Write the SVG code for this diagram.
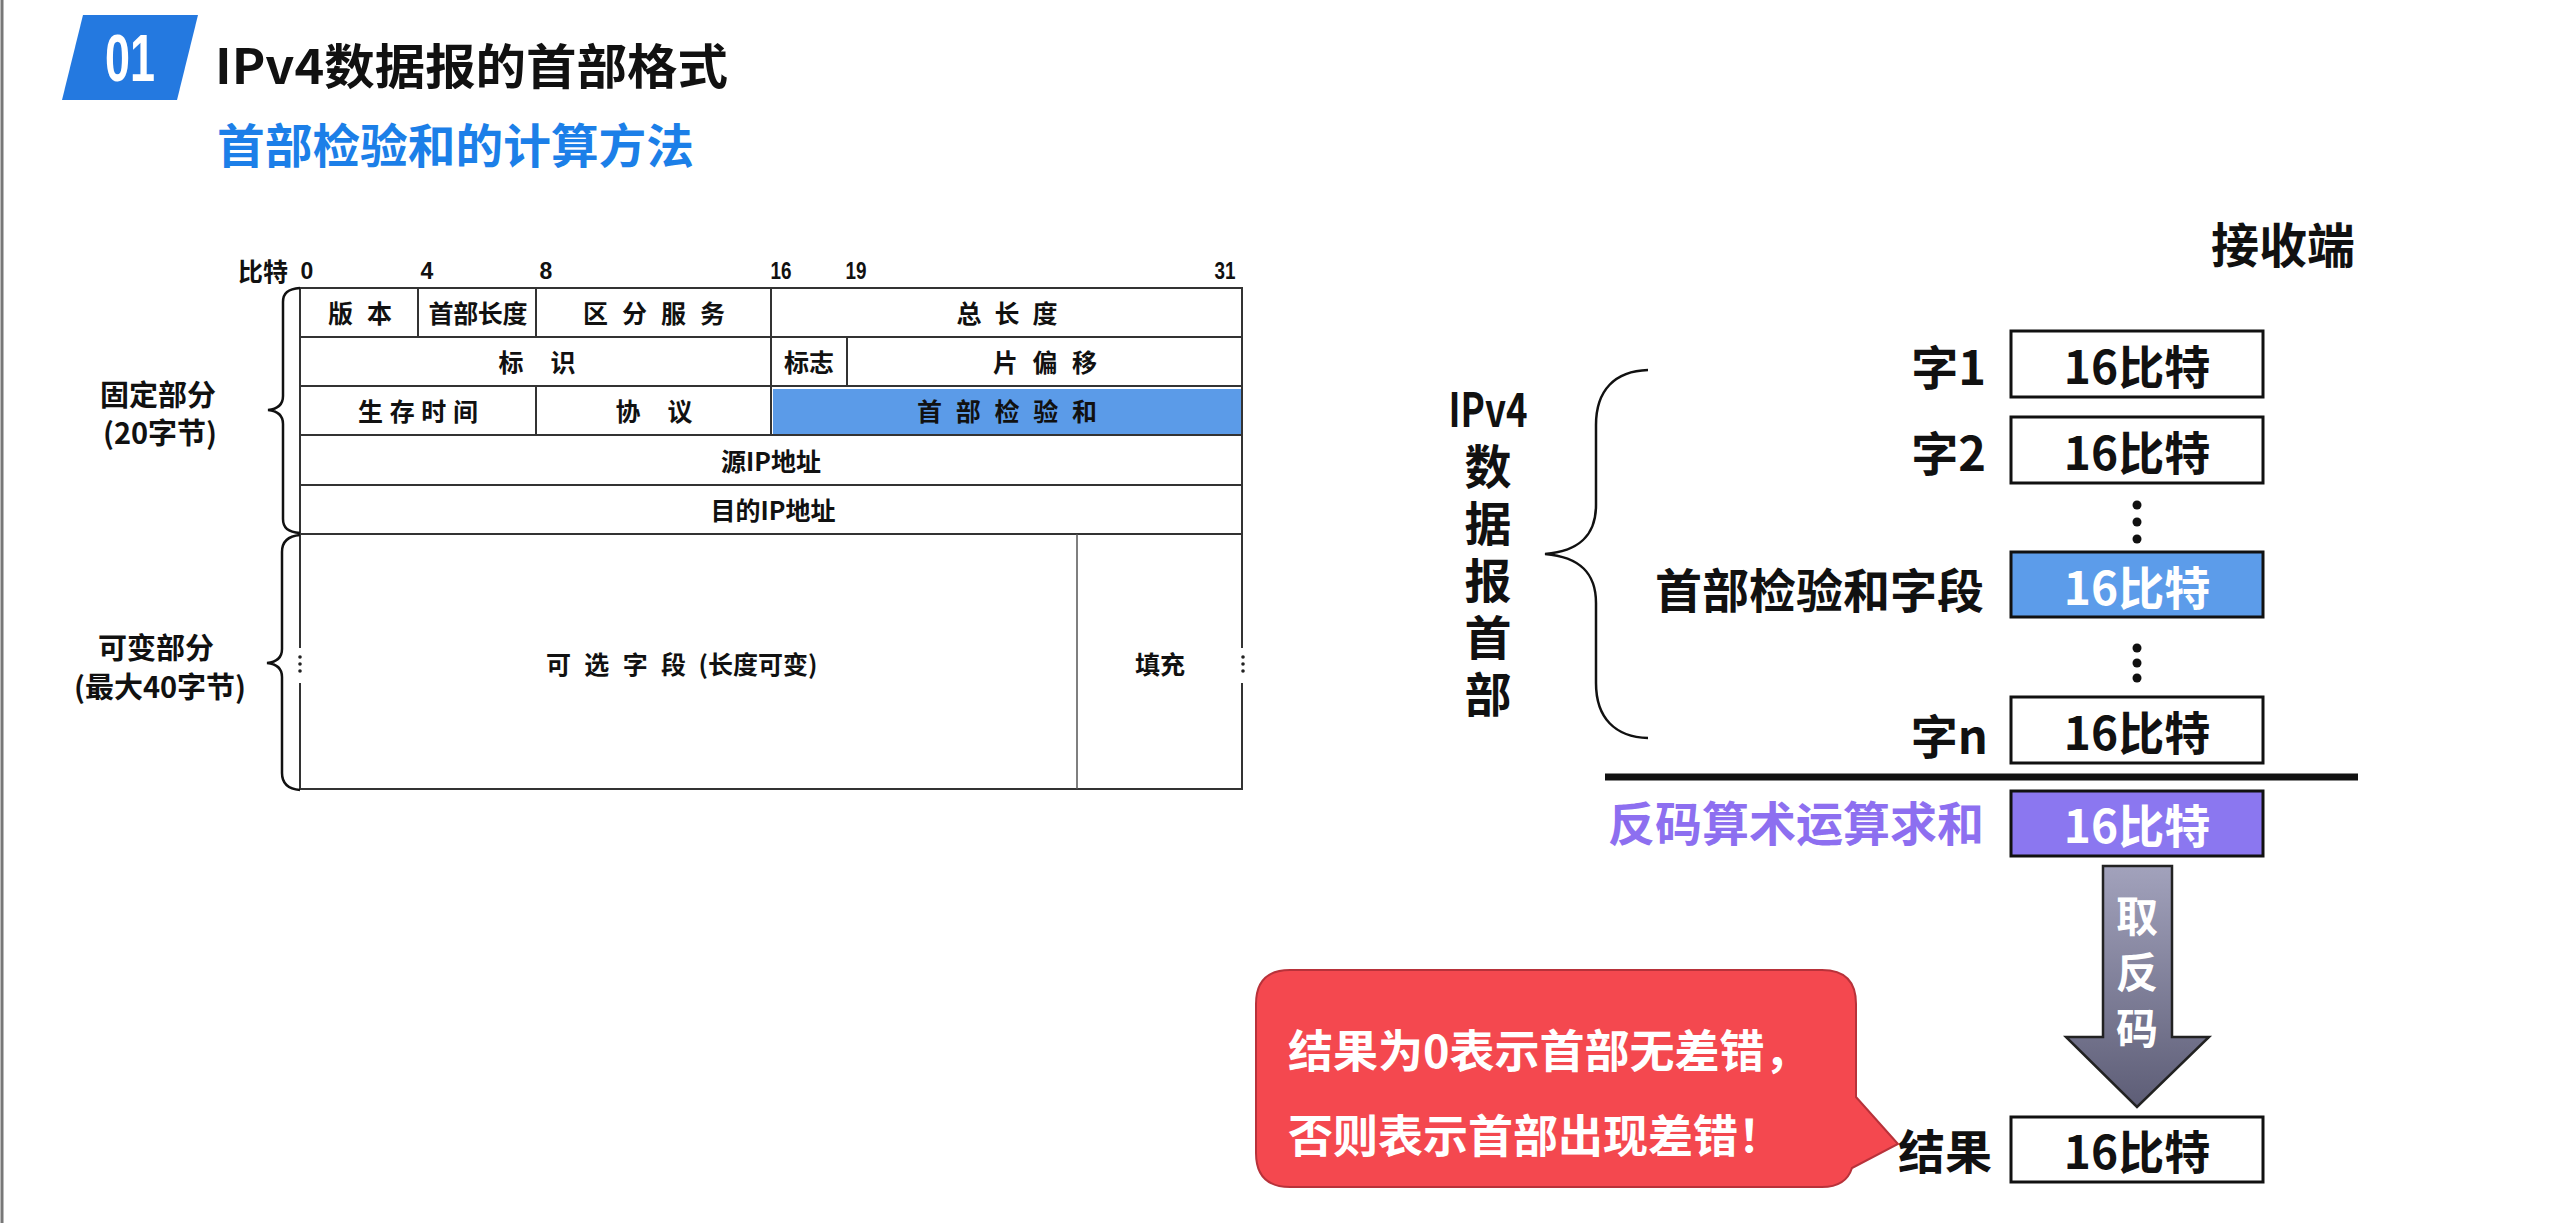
<svg xmlns="http://www.w3.org/2000/svg" width="2560" height="1223" viewBox="0 0 2560 1223">
  <defs>
    <style>
      .cjk { font-family: "Noto Sans CJK SC", "Liberation Sans", sans-serif; font-weight: bold; dominant-baseline: central; }
      .cell { font-size: 25px; fill: #111; text-anchor: middle; }
      .bit { font-family: "Liberation Sans", "Noto Sans CJK SC", sans-serif; font-weight: bold; font-size: 23px; fill: #111; text-anchor: middle; dominant-baseline: central; }
      .side { font-size: 29px; fill: #111; text-anchor: middle; }
      .grid { stroke: #333; stroke-width: 2; fill: none; }
      .brace { stroke: #111; stroke-width: 2.5; fill: none; }
      .word { fill: #fff; stroke: #111; stroke-width: 3; }
      .wlabel { font-size: 47px; fill: #111; text-anchor: end; }
      .wtext { font-size: 46px; fill: #111; text-anchor: middle; }
      .vtext { font-size: 47px; fill: #111; text-anchor: middle; }
      .vcol { font-family: "Noto Sans CJK SC", sans-serif; font-weight: bold; font-size: 47px; fill: #111; writing-mode: vertical-rl; text-orientation: upright; letter-spacing: 10px; }
    </style>
    <linearGradient id="arrowFill" x1="0" y1="0" x2="0" y2="1">
      <stop offset="0" stop-color="#a2a2bc"/>
      <stop offset="1" stop-color="#5d5d76"/>
    </linearGradient>
  </defs>

  <rect width="2560" height="1223" fill="#fff"/>
  <line x1="2" y1="0" x2="2" y2="1223" stroke="#777" stroke-width="3"/>

  <!-- heading -->
  <g id="heading">
    <polygon points="83,15 198,15 177,100 62,100" fill="#2479e0"/>
    <text x="130" y="58" font-family="Liberation Sans, sans-serif" font-weight="bold" font-size="66" fill="#fff" text-anchor="middle" dominant-baseline="central" textLength="50" lengthAdjust="spacingAndGlyphs">01</text>
    <text class="cjk" x="215" y="63" font-size="48" font-weight="900" fill="#111" textLength="513" lengthAdjust="spacingAndGlyphs">IPv4数据报的首部格式</text>
    <text class="cjk" x="217" y="142" font-size="47" font-weight="900" fill="#1c7fe8" textLength="477" lengthAdjust="spacingAndGlyphs">首部检验和的计算方法</text>
  </g>

  <!-- IPv4 header format table -->
  <g id="header-table">
    <text class="cjk" x="263" y="270" font-size="25" fill="#111" text-anchor="middle">比特</text>
    <text class="bit" x="307" y="271">0</text>
    <text class="bit" x="427" y="271">4</text>
    <text class="bit" x="546" y="271">8</text>
    <text class="bit" x="781" y="271" textLength="21" lengthAdjust="spacingAndGlyphs">16</text>
    <text class="bit" x="856" y="271" textLength="21" lengthAdjust="spacingAndGlyphs">19</text>
    <text class="bit" x="1225" y="271" textLength="21" lengthAdjust="spacingAndGlyphs">31</text>

    <rect x="773" y="389" width="468" height="45" fill="#5b9be8"/>

    <rect class="grid" x="300" y="288" width="942" height="501"/>
    <path class="grid" d="M300,337H1242 M300,386H1242 M300,435H1242 M300,485H1242 M300,534H1242
                         M418,288V337 M536,288V337 M771,288V337
                         M771,337V386 M847,337V386
                         M536,386V435 M771,386V435"/>
    <line x1="1077" y1="534" x2="1077" y2="789" stroke="#555" stroke-width="1.5"/>

    <!-- breaks in the side borders of the options area -->
    <rect x="296" y="648" width="8" height="35" fill="#fff"/>
    <rect x="1238" y="648" width="8" height="35" fill="#fff"/>
    <g fill="#222">
      <circle cx="300" cy="657" r="1.8"/><circle cx="300" cy="664" r="1.8"/><circle cx="300" cy="671" r="1.8"/>
      <circle cx="1243" cy="657" r="1.8"/><circle cx="1243" cy="664" r="1.8"/><circle cx="1243" cy="671" r="1.8"/>
    </g>

    <text class="cjk cell" x="360" y="312" textLength="64">版本</text>
    <text class="cjk cell" x="478" y="312" textLength="99">首部长度</text>
    <text class="cjk cell" x="654" y="312" textLength="142">区分服务</text>
    <text class="cjk cell" x="1007" y="312" textLength="101">总长度</text>
    <text class="cjk cell" x="537" y="361" textLength="77">标识</text>
    <text class="cjk cell" x="809" y="361" textLength="50">标志</text>
    <text class="cjk cell" x="1045" y="361" textLength="104">片偏移</text>
    <text class="cjk cell" x="418" y="410" textLength="120">生存时间</text>
    <text class="cjk cell" x="654" y="410" textLength="77">协议</text>
    <text class="cjk cell" x="1007" y="410" textLength="180">首部检验和</text>
    <text class="cjk cell" x="771" y="460">源IP地址</text>
    <text class="cjk cell" x="773" y="509">目的IP地址</text>
    <text class="cjk cell" x="616" y="663" textLength="140">可选字段</text>
    <text class="cjk cell" x="758" y="663">(长度可变)</text>
    <text class="cjk cell" x="1160" y="663">填充</text>

    <path class="brace" d="M300,288 C288,289 283,293 283,302 V396 C283,404 278,409 268,410 C278,411 283,416 283,424 V519 C283,528 288,532 300,533"/>
    <path class="brace" d="M300,535 C288,536 282,541 282,552 V649 C282,657 277,662 267,663 C277,664 282,669 282,677 V773 C282,784 288,789 300,790"/>

    <text class="cjk side" x="158" y="393">固定部分</text>
    <text class="cjk side" x="160" y="431">(20字节)</text>
    <text class="cjk side" x="156" y="646">可变部分</text>
    <text class="cjk side" x="160" y="685">(最大40字节)</text>
  </g>

  <!-- receiver side: 16-bit words -->
  <text class="cjk" x="2283" y="242" font-size="48" fill="#111" text-anchor="middle">接收端</text>

  <g id="ipv4-label">
    <text class="cjk vtext" x="1488" y="406" textLength="79" lengthAdjust="spacingAndGlyphs">IPv4</text>
    <text class="vcol" x="1488" y="443">数据报首部</text>
    <path class="brace" d="M1648,370 C1615,371 1596,390 1596,425 V505 C1596,535 1580,551 1545,554 C1580,557 1596,573 1596,603 V683 C1596,718 1615,737 1648,738" stroke-width="3"/>
  </g>

  <g id="word-1">
    <text class="cjk wlabel" x="1986" y="364">字1</text>
    <rect class="word" x="2011" y="331" width="252" height="66"/>
    <text class="cjk wtext" x="2137" y="364">16比特</text>
  </g>
  <g id="word-2">
    <text class="cjk wlabel" x="1986" y="450">字2</text>
    <rect class="word" x="2011" y="417" width="252" height="66"/>
    <text class="cjk wtext" x="2137" y="450">16比特</text>
  </g>
  <g fill="#111">
    <circle cx="2137" cy="505" r="4.5"/><circle cx="2137" cy="522" r="4.5"/><circle cx="2137" cy="539" r="4.5"/>
  </g>
  <g id="word-checksum">
    <text class="cjk wlabel" x="1984" y="587">首部检验和字段</text>
    <rect class="word" x="2011" y="552" width="252" height="65" style="fill:#5c9cea"/>
    <text class="cjk wtext" x="2137" y="585" style="fill:#fff">16比特</text>
  </g>
  <g fill="#111">
    <circle cx="2137" cy="648" r="4.5"/><circle cx="2137" cy="663" r="4.5"/><circle cx="2137" cy="678" r="4.5"/>
  </g>
  <g id="word-n">
    <text class="cjk wlabel" x="1988" y="733">字n</text>
    <rect class="word" x="2011" y="697" width="252" height="66"/>
    <text class="cjk wtext" x="2137" y="730">16比特</text>
  </g>

  <line x1="1605" y1="777" x2="2358" y2="777" stroke="#111" stroke-width="7"/>

  <g id="sum">
    <text class="cjk wlabel" x="1984" y="820" style="fill:#8d6ff0">反码算术运算求和</text>
    <rect class="word" x="2011" y="791" width="252" height="65" style="fill:#8b77f0"/>
    <text class="cjk wtext" x="2137" y="823" style="fill:#fff">16比特</text>
  </g>

  <g id="result">
    <text class="cjk" x="1945" y="1148" font-size="47" fill="#111" text-anchor="middle">结果</text>
    <rect class="word" x="2011" y="1117" width="252" height="65"/>
    <text class="cjk wtext" x="2137" y="1149">16比特</text>
  </g>

  <!-- connectors -->
  <g id="connectors">
    <path d="M2103,866 H2172 V1037 H2209 L2137,1107 L2066,1037 H2103 Z" fill="url(#arrowFill)" stroke="#222" stroke-width="2.5"/>
    <text class="vcol" x="2137" y="895" style="fill:#fff; font-size:42px; letter-spacing:14px">取反码</text>
  </g>

  <!-- callout -->
  <g id="callout">
    <path d="M1290,970 H1822 Q1856,970 1856,1004 V1097 L1898,1144 L1852,1168 Q1846,1187 1822,1187 H1290 Q1256,1187 1256,1153 V1004 Q1256,970 1290,970 Z" fill="#f4484f" stroke="#b8323a" stroke-width="2"/>
    <text class="cjk" x="1288" y="1048" font-size="45" fill="#fff">结果为0表示首部无差错，</text>
    <text class="cjk" x="1288" y="1133" font-size="45" fill="#fff">否则表示首部出现差错！</text>
  </g>
</svg>
